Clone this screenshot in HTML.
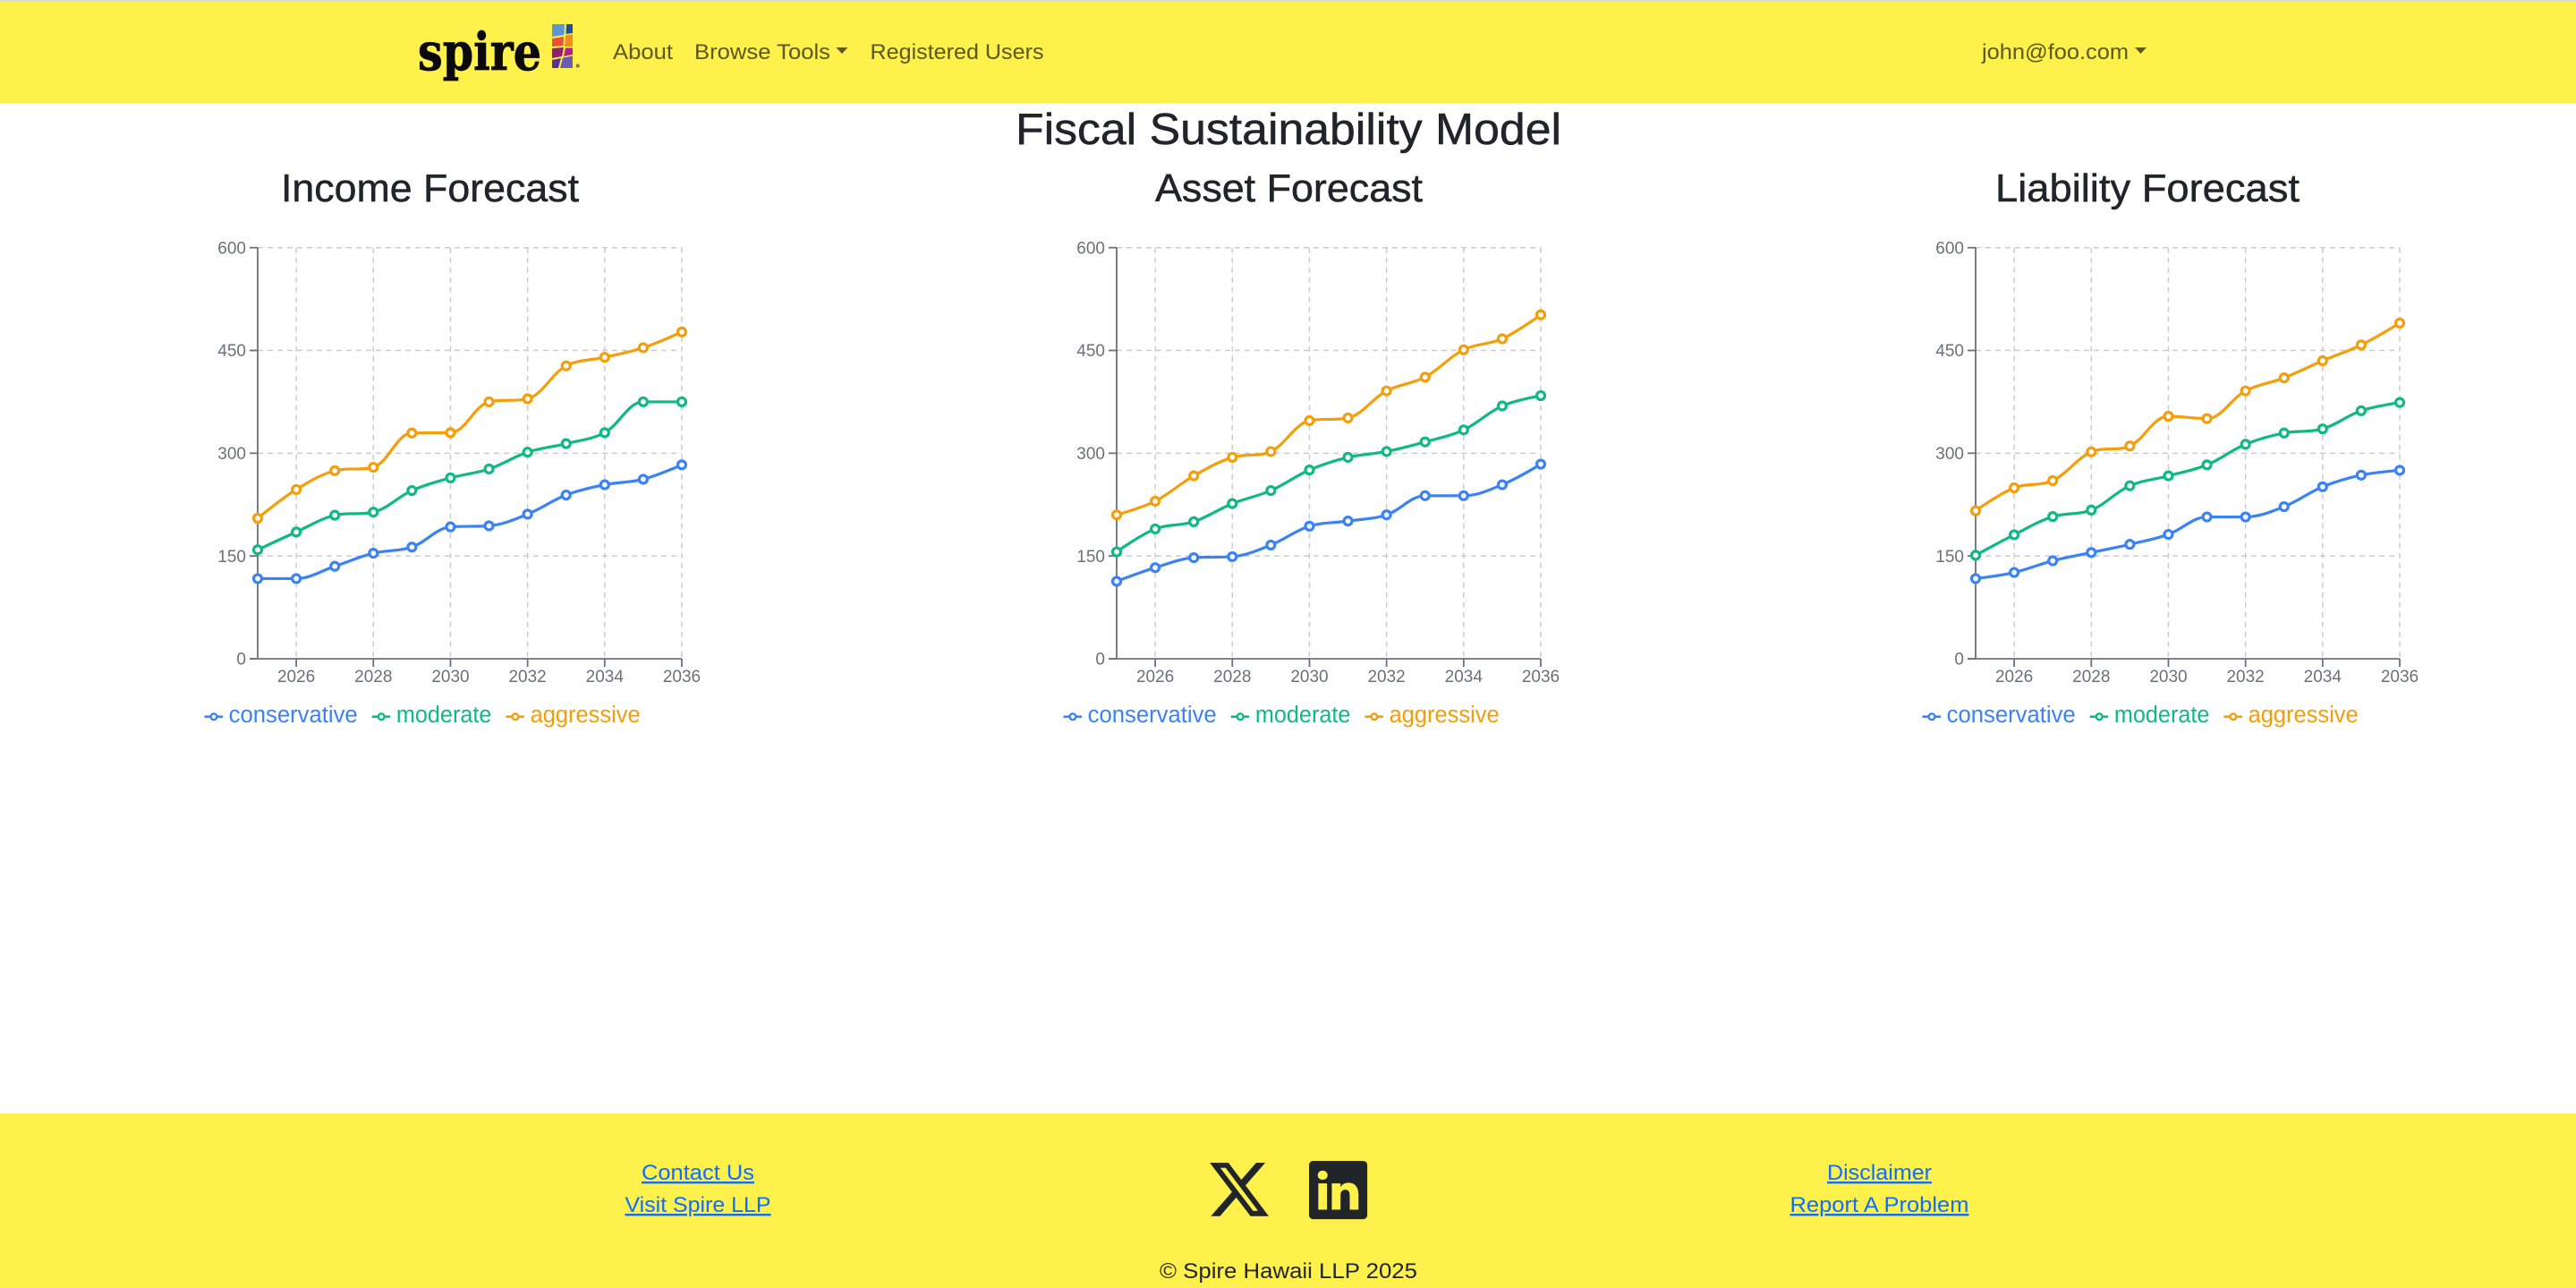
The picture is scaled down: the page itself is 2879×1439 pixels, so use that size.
<!DOCTYPE html>
<html lang="en">
<head>
<meta charset="utf-8">
<title>Fiscal Sustainability Model</title>
<style>
html,body{margin:0;padding:0;background:#fff;width:2879px;height:1439px;overflow:hidden}
svg{display:block;position:absolute;left:0;top:0}
text{font-family:"Liberation Sans",sans-serif}
.nav{font-size:24px;fill:#5c5720}
.h{font-size:44px;fill:#212529;stroke:#212529;stroke-width:.5px}
.lnk{font-size:24px;fill:#0d6efd;text-decoration:underline}
</style>
</head>
<body>
<svg id="root" width="2879" height="1439" viewBox="0 0 2879 1439" xmlns="http://www.w3.org/2000/svg">
  <rect x="0" y="0" width="2879" height="115" fill="#fff14b"/>
  <rect x="0" y="0" width="2879" height="1.5" fill="#d9d9d9"/>

  <g>
    <text x="467" y="78" font-size="58" textLength="138" lengthAdjust="spacingAndGlyphs" stroke="#0a0a0a" stroke-width=".8" style="font-family:'DejaVu Serif','Liberation Serif',serif;font-weight:700" fill="#0a0a0a">spire</text>
    <polygon points="617,27 631,27 630.5,39 617,41" fill="#5c94d6"/>
    <polygon points="633,27 640,27 640,37 632.5,38" fill="#1f4ea8"/>
    <polygon points="617,43 630,41 629.5,51 617,52" fill="#e8503a"/>
    <polygon points="632,39.5 640,38.5 640,52 631,52" fill="#f58a1f"/>
    <polygon points="617,54 630,53 628,63 617,65" fill="#8f2070"/>
    <polygon points="632,53.5 640,53.5 640,61 630,63" fill="#b81c90"/>
    <polygon points="617,67 627,65 624,76 617,76" fill="#5a3095"/>
    <polygon points="629,64.5 640,62.5 640,76 626,76" fill="#6a5cb0"/>
    <circle cx="645.7" cy="73.5" r="2" fill="#807c30"/>
  </g>

  <text class="nav" x="685" y="66" textLength="67" lengthAdjust="spacingAndGlyphs">About</text>
  <text class="nav" x="776" y="66" textLength="152" lengthAdjust="spacingAndGlyphs">Browse Tools</text>
  <polygon points="934.5,53 947.5,53 941,60" fill="#5c5720"/>
  <text class="nav" x="972.5" y="66" textLength="194" lengthAdjust="spacingAndGlyphs">Registered Users</text>
  <text class="nav" x="2215" y="66" textLength="164" lengthAdjust="spacingAndGlyphs">john@foo.com</text>
  <polygon points="2386,53 2399,53 2392.5,60" fill="#5c5720"/>

  <text x="1135" y="161" font-size="49" fill="#212529" stroke="#212529" stroke-width=".5" textLength="610" lengthAdjust="spacingAndGlyphs">Fiscal Sustainability Model</text>
  <text class="h" x="314" y="225" textLength="333" lengthAdjust="spacingAndGlyphs">Income Forecast</text>
  <text class="h" x="1291" y="225" textLength="299" lengthAdjust="spacingAndGlyphs">Asset Forecast</text>
  <text class="h" x="2230" y="225" textLength="340" lengthAdjust="spacingAndGlyphs">Liability Forecast</text>

  <g id="charts"></g>

  <rect x="0" y="1244" width="2879" height="195" fill="#fff14b"/>
  <text class="lnk" x="717" y="1318" textLength="126" lengthAdjust="spacingAndGlyphs">Contact Us</text>
  <text class="lnk" x="698.5" y="1354" textLength="163" lengthAdjust="spacingAndGlyphs">Visit Spire LLP</text>
  <text class="lnk" x="2042" y="1318" textLength="117" lengthAdjust="spacingAndGlyphs">Disclaimer</text>
  <text class="lnk" x="2000.5" y="1354" textLength="200" lengthAdjust="spacingAndGlyphs">Report A Problem</text>
  <text x="1296" y="1428" font-size="24" fill="#212529" textLength="288" lengthAdjust="spacingAndGlyphs">© Spire Hawaii LLP 2025</text>

  <path transform="translate(1352 1295.9) scale(4.125)" fill="#212529" d="M12.6.75h2.454l-5.36 6.142L16 15.25h-4.937l-3.867-5.07-4.425 5.07H.316l5.733-6.57L0 .75h5.063l3.495 4.633L12.601.75Zm-.86 13.028h1.36L4.323 2.145H2.865z"/>
  <path transform="translate(1463 1297) scale(4.07)" fill="#212529" d="M0 1.146C0 .513.526 0 1.175 0h13.65C15.474 0 16 .513 16 1.146v13.708c0 .633-.526 1.146-1.175 1.146H1.175C.526 16 0 15.487 0 14.854zm4.943 12.248V6.169H2.542v7.225zm-1.2-8.212c.837 0 1.358-.554 1.358-1.248-.015-.709-.52-1.248-1.342-1.248S2.4 3.226 2.4 3.934c0 .694.521 1.248 1.327 1.248zm4.908 8.212V9.359c0-.216.016-.432.08-.586.173-.431.568-.878 1.232-.878.869 0 1.216.662 1.216 1.634v3.865h2.401V9.25c0-2.22-1.184-3.252-2.764-3.252-1.274 0-1.845.7-2.165 1.193v.025h-.016l.016-.025V6.169h-2.4c.03.678 0 7.225 0 7.225z"/>
</svg>

<script>
const years = [2025, 2026, 2027, 2028, 2029, 2030, 2031, 2032, 2033, 2034, 2035, 2036];
const xTickLabels = [2026, 2028, 2030, 2032, 2034, 2036];
const yTickLabels = [0, 150, 300, 450, 600];
const seriesNames = ['conservative', 'moderate', 'aggressive'];
const seriesColors = ['#3b82f6', '#10b981', '#f59e0b'];

const incomeConservative = [117, 117, 135, 154, 163, 192.5, 194, 211, 239, 254, 262, 283];
const incomeModerate = [159, 185, 209.5, 214, 245.5, 264, 277, 301.5, 314, 330, 375, 375];
const incomeAggressive = [205, 247, 274.5, 279.5, 329.5, 330, 375, 379.5, 427.5, 440, 454, 477];

const assetConservative = [113, 133, 147.5, 149, 166, 193.5, 201, 210, 238, 238, 254, 284];
const assetModerate = [156, 189.5, 200, 226.5, 245.5, 275.5, 294, 302.5, 316.5, 334, 369, 384];
const assetAggressive = [210, 230, 267, 294, 302.5, 347.5, 351.5, 391, 411, 451, 467, 502];

const liabilityConservative = [117, 126, 143, 155, 167, 181.5, 207, 207, 222, 251, 268, 275];
const liabilityModerate = [151, 181, 207.5, 217, 252.5, 267, 283, 313, 329.5, 335.5, 362, 374];
const liabilityAggressive = [216, 249.5, 260, 302, 310.5, 354, 350.5, 391, 410, 435, 458, 490];

const chartNames = ['income', 'asset', 'liability'];
const chartSeries = [
  [incomeConservative, incomeModerate, incomeAggressive],
  [assetConservative, assetModerate, assetAggressive],
  [liabilityConservative, liabilityModerate, liabilityAggressive]
];

const NS = 'http://www.w3.org/2000/svg';
const plotLeft = 288, plotRight = 762, plotTop = 276.7, plotBottom = 736, chartStep = 960;
const axisColor = '#6e7079', gridColor = '#cccccc';
const legendTextWidth = { conservative: 144, moderate: 106.5, aggressive: 123 };

function make(tag, attrs, parent) {
  const el = document.createElementNS(NS, tag);
  for (const k in attrs) el.setAttribute(k, attrs[k]);
  parent.appendChild(el);
  return el;
}
function xScale(year) {
  return plotLeft + (year - years[0]) / (years[years.length - 1] - years[0]) * (plotRight - plotLeft);
}
function yScale(v) {
  const max = yTickLabels[yTickLabels.length - 1];
  return plotBottom - v / max * (plotBottom - plotTop);
}
function clamp(v, a, b) {
  return Math.min(Math.max(a, b), Math.max(Math.min(a, b), v));
}
/* smooth line: segments with control points clamped to neighbours */
function smoothPath(pts, smooth) {
  let d = 'M' + pts[0][0].toFixed(2) + ' ' + pts[0][1].toFixed(2);
  let cp0 = pts[0].slice();
  for (let i = 1; i < pts.length; i++) {
    const p = pts[i], prev = pts[i - 1], next = pts[i + 1];
    let cp1, nextCp0;
    if (next) {
      const lenPrev = Math.hypot(p[0] - prev[0], p[1] - prev[1]);
      const lenNext = Math.hypot(next[0] - p[0], next[1] - p[1]);
      const ratio = lenNext / (lenNext + lenPrev);
      let nx = clamp(p[0] + (next[0] - prev[0]) * smooth * ratio, p[0], next[0]);
      let ny = clamp(p[1] + (next[1] - prev[1]) * smooth * ratio, p[1], next[1]);
      let c1x = clamp(p[0] - (nx - p[0]) * lenPrev / lenNext, p[0], prev[0]);
      let c1y = clamp(p[1] - (ny - p[1]) * lenPrev / lenNext, p[1], prev[1]);
      nx = p[0] + (p[0] - c1x) * lenNext / lenPrev;
      ny = p[1] + (p[1] - c1y) * lenNext / lenPrev;
      cp1 = [c1x, c1y];
      nextCp0 = [nx, ny];
    } else {
      cp1 = p.slice();
      nextCp0 = p.slice();
    }
    d += 'C' + cp0[0].toFixed(2) + ' ' + cp0[1].toFixed(2) + ' ' + cp1[0].toFixed(2) + ' ' + cp1[1].toFixed(2) + ' ' + p[0].toFixed(2) + ' ' + p[1].toFixed(2);
    cp0 = nextCp0;
  }
  return d;
}

function drawChart(index) {
  const root = document.getElementById('charts');
  const g = make('g', { transform: 'translate(' + index * chartStep + ' 0)' }, root);
  
  

  yTickLabels.forEach(function (t) {
    const py = yScale(t);
    if (t > 0) {
      const grid = make('line', { x1: plotLeft, x2: plotRight, y1: py, y2: py, stroke: gridColor, 'stroke-width': 1.5, 'stroke-dasharray': '6 5' }, g);
      
      
    }
    const tick = make('line', { x1: plotLeft - 9, x2: plotLeft, y1: py, y2: py, stroke: axisColor, 'stroke-width': 1.8 }, g);
    
    
    const label = make('text', { x: plotLeft - 13, y: py + 6.6, 'text-anchor': 'end', 'font-size': 19, fill: axisColor }, g);
    label.textContent = t;
    
    
  });

  xTickLabels.forEach(function (t) {
    const px = xScale(t);
    const grid = make('line', { x1: px, x2: px, y1: plotTop, y2: plotBottom, stroke: gridColor, 'stroke-width': 1.5, 'stroke-dasharray': '6 5' }, g);
    
    
    const tick = make('line', { x1: px, x2: px, y1: plotBottom, y2: plotBottom + 9, stroke: axisColor, 'stroke-width': 1.8 }, g);
    
    
    const label = make('text', { x: px, y: 762, 'text-anchor': 'middle', 'font-size': 19, fill: axisColor }, g);
    label.textContent = t;
    
    
  });

  const yAxis = make('line', { x1: plotLeft, x2: plotLeft, y1: plotTop, y2: plotBottom, stroke: axisColor, 'stroke-width': 1.8 }, g);
  
  
  const xAxis = make('line', { x1: plotLeft - 9, x2: plotRight, y1: plotBottom, y2: plotBottom, stroke: axisColor, 'stroke-width': 1.8 }, g);
  
  

  chartSeries[index].forEach(function (values, s) {
    const color = seriesColors[s];
    const pts = values.map(function (v, i) { return [xScale(years[i]), yScale(v)]; });
    const group = make('g', {}, g);
    
    
    const line = make('path', { d: smoothPath(pts, 0.35), fill: 'none', stroke: color, 'stroke-width': 3.2, 'stroke-linejoin': 'round' }, group);
    
    
    pts.forEach(function (p) {
      const dot = make('circle', { cx: p[0], cy: p[1], r: 4.5, fill: '#fff', stroke: color, 'stroke-width': 3.2 }, group);
      
      
    });
  });

  let lx = 228.5;
  const ly = 800.7;
  seriesNames.forEach(function (name, s) {
    const color = seriesColors[s];
    const entry = make('g', {}, g);
    
    
    make('line', { x1: lx, x2: lx + 20.5, y1: ly, y2: ly, stroke: color, 'stroke-width': 2.6 }, entry);
    make('circle', { cx: lx + 10.5, cy: ly, r: 3.4, fill: '#fff', stroke: color, 'stroke-width': 2.4 }, entry);
    const w = legendTextWidth[name];
    const label = make('text', { x: lx + 27.2, y: 807, 'font-size': 25.5, fill: color, textLength: w, lengthAdjust: 'spacingAndGlyphs' }, entry);
    label.textContent = name;
    
    
    lx += 27.2 + w + 16;
  });
}

chartNames.forEach(function (n, i) { drawChart(i); });
</script>
</body>
</html>
